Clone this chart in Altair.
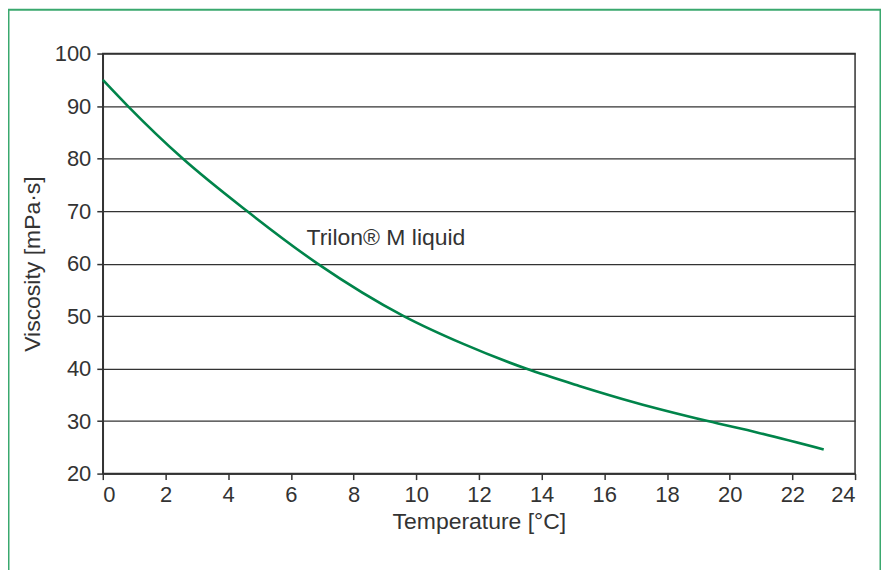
import altair as alt
import pandas as pd

temperature = [0, 0.8, 2.55, 4.6, 6.85, 9.6, 11.5, 13.5, 15.2, 17.0, 19.3, 20.9, 23.0]
viscosity = [95.0, 90.0, 80.0, 70.0, 60.0, 50.0, 44.7, 40.0, 36.7, 33.5, 30.0, 27.8, 24.6]

label_text = ["Trilon® M liquid"]
label_x = [6.5]
label_y = [64.8]

x_ticks = list(range(0, 25, 2))
y_ticks = list(range(20, 101, 10))

df = pd.DataFrame({"t": temperature, "v": viscosity})
lab = pd.DataFrame({"t": label_x, "v": label_y, "txt": label_text})

FONT = "Liberation Sans"
TXT = "#333333"
LFS = 22
TFS = 23

x_scale = alt.Scale(domain=[0, 24], nice=False, zero=False)
y_scale = alt.Scale(domain=[20, 100], nice=False, zero=False)

line = alt.Chart(df).mark_line(color="#00844a", strokeWidth=2.6, interpolate="monotone").encode(
    x=alt.X("t:Q", scale=x_scale,
            axis=alt.Axis(title="Temperature [°C]", values=x_ticks, grid=False, tickSize=6,
                          labelFontSize=LFS, titleFontSize=TFS, labelPadding=5, titlePadding=5,
                          titleFontWeight="normal")),
    y=alt.Y("v:Q", scale=y_scale,
            axis=alt.Axis(title="Viscosity [mPa·s]", values=y_ticks, grid=True, tickSize=6,
                          labelFontSize=LFS, titleFontSize=TFS, labelPadding=6, titlePadding=10,
                          titleFontWeight="normal")),
)

text = alt.Chart(lab).mark_text(align="left", baseline="middle", fontSize=TFS, font=FONT, color=TXT).encode(
    x=alt.X("t:Q", scale=x_scale), y=alt.Y("v:Q", scale=y_scale), text="txt:N"
)

frame = alt.Chart(pd.DataFrame({"a": [0]})).mark_rect(
    fill=None, stroke="#3aa86e", strokeWidth=2, clip=False
).encode(
    x=alt.value(-94.5), x2=alt.value(779.5), y=alt.value(-44), y2=alt.value(620)
)

chart = alt.layer(frame, line, text).properties(
    width=754, height=421,
    autosize=alt.AutoSizeParams(type="none"),
    padding={"left": 95, "top": 45, "right": 26, "bottom": 110},
).configure_axis(
    domainColor=TXT, tickColor=TXT, gridColor=TXT, labelColor=TXT, titleColor=TXT,
    labelFont=FONT, titleFont=FONT, domainWidth=1.5, tickWidth=1.5, gridWidth=1.3,
).configure_view(stroke=TXT, strokeWidth=1.5)

chart.save("out.html", embed_options={"renderer": "svg", "actions": False})
